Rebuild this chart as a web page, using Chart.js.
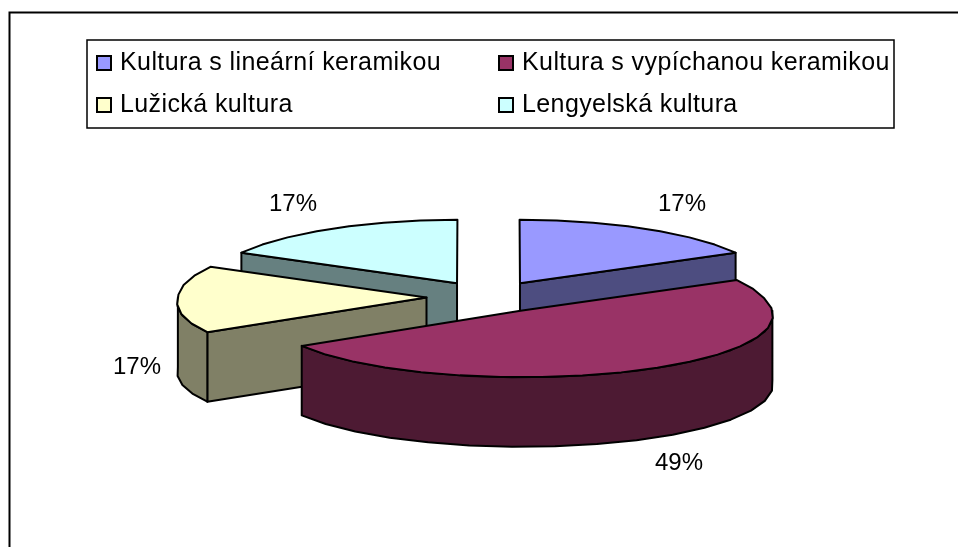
<!DOCTYPE html>
<html>
<head>
<meta charset="utf-8">
<style>html,body{margin:0;padding:0;background:#fff}canvas{display:block}</style>
<script src="https://cdn.jsdelivr.net/npm/chart.js@4"></script>
</head>
<body>
<canvas id="c" width="958" height="547"></canvas>
<script>
const categories = ['Kultura s lineární keramikou','Kultura s vypíchanou keramikou','Lužická kultura','Lengyelská kultura'];
const values = [17,49,17,17];
const topColors = ['#9999FF','#993366','#FFFFCC','#CCFFFF'];
const sideColors = ['#4D4D80','#4D1A33','#808066','#668080'];
const drawOrder = [3,0,2,1];
const labelCenters = [[682,204],[679,463],[137,367],[293,204]];
const legendCells = [[97,56,120],[499,56,522],[97,98,120],[499,98,522]];
const TILT = 0.256, DEPTH = 69.5, EXPLODE = 62, RADIUS = 248.5, CX = 488.5, CY = 297;
const FONT = '24px "Liberation Sans", Arial, sans-serif';
const LEGEND_FONT = '25px "Liberation Sans", Arial, sans-serif';

function proj(x,y){
  const dy = y-CY, f = dy>0 ? 1+0.001*dy : 1+0.0002*dy;
  return [CX+(x-CX)*f, dy>0 ? y+0.0005*dy*dy : y];
}
function arcPts(cx,cy,r,a0,a1){
  const pts=[], step=9*Math.PI/180, n=Math.max(1,Math.round((a1-a0)/step));
  for(let i=0;i<=n;i++){
    const a=a0+(a1-a0)*i/n;
    pts.push(proj(cx+r*Math.cos(a), cy+TILT*r*Math.sin(a)));
  }
  return pts;
}
function poly(ctx,pts,fill){
  ctx.beginPath();
  pts.forEach((p,i)=>i?ctx.lineTo(p[0],p[1]):ctx.moveTo(p[0],p[1]));
  ctx.closePath();
  ctx.fillStyle=fill; ctx.fill(); ctx.stroke();
}
const down = pts => pts.map(p=>[p[0],p[1]+DEPTH]);

const pie3d = {
  id:'pie3d',
  beforeDatasetsDraw(chart){
    const ctx=chart.ctx, arcs=chart.getDatasetMeta(0).data;
    ctx.save();
    ctx.strokeStyle='#000'; ctx.lineWidth=2; ctx.lineJoin='round';
    drawOrder.forEach(i=>{
      const arc=arcs[i], p=arc.getProps(['x','y','startAngle','endAngle','outerRadius']);
      const d=arc.options.offset/4, mid=(p.startAngle+p.endAngle)/2;
      const cx=p.x+d*Math.cos(mid), cy=p.y+d*TILT*Math.sin(mid), r=p.outerRadius;
      const apex=proj(cx,cy);
      const edge=a=>proj(cx+r*Math.cos(a), cy+TILT*r*Math.sin(a));
      const quad=(a)=>{const e=edge(a); return [apex,e,[e[0],e[1]+DEPTH],[apex[0],apex[1]+DEPTH]];};
      // radial cut faces that turn towards the viewer
      if(Math.cos(p.startAngle)<-1e-6) poly(ctx,quad(p.startAngle),sideColors[i]);
      if(Math.cos(p.endAngle)>1e-6) poly(ctx,quad(p.endAngle),sideColors[i]);
      // outer rim, front half only
      const f0=Math.max(p.startAngle,0), f1=Math.min(p.endAngle,Math.PI);
      if(f1>f0){
        const rim=arcPts(cx,cy,r,f0,f1);
        poly(ctx,rim.concat(down(rim).reverse()),sideColors[i]);
      }
      // top face
      poly(ctx,[apex].concat(arcPts(cx,cy,r,p.startAngle,p.endAngle)),topColors[i]);
    });
    ctx.restore();
    return false;
  },
  afterDraw(chart){
    const ctx=chart.ctx;
    ctx.save();
    ctx.fillStyle='#000'; ctx.font=FONT; ctx.textBaseline='middle'; ctx.textAlign='center';
    values.forEach((v,i)=>ctx.fillText(v+'%',labelCenters[i][0],labelCenters[i][1]));
    ctx.restore();
  },
  beforeDraw(chart){
    const ctx=chart.ctx;
    ctx.save();
    ctx.strokeStyle='#000'; ctx.lineWidth=2;
    ctx.beginPath(); ctx.moveTo(958,12.5); ctx.lineTo(9.5,12.5); ctx.lineTo(9.5,547); ctx.stroke();
    ctx.lineWidth=1.5;
    ctx.fillStyle='#fff';
    ctx.fillRect(87,40,807,88); ctx.strokeRect(87,40,807,88);
    ctx.font=LEGEND_FONT; ctx.textBaseline='middle'; ctx.textAlign='left'; ctx.letterSpacing='0.4px';
    categories.forEach((t,i)=>{
      const [sx,sy,tx]=legendCells[i];
      ctx.fillStyle=topColors[i]; ctx.lineWidth=2;
      ctx.fillRect(sx,sy,14,14); ctx.strokeRect(sx,sy,14,14);
      ctx.fillStyle='#000'; ctx.fillText(t,tx,sy+7);
    });
    ctx.restore();
  }
};

new Chart(document.getElementById('c'),{
  type:'pie',
  data:{labels:categories,datasets:[{data:values,backgroundColor:topColors,offset:EXPLODE*4,borderWidth:0}]},
  options:{
    responsive:false,animation:false,radius:RADIUS,
    layout:{padding:{left:19,top:47}},
    plugins:{legend:{display:false},tooltip:{enabled:false}}
  },
  plugins:[pie3d]
});
</script>
</body>
</html>
